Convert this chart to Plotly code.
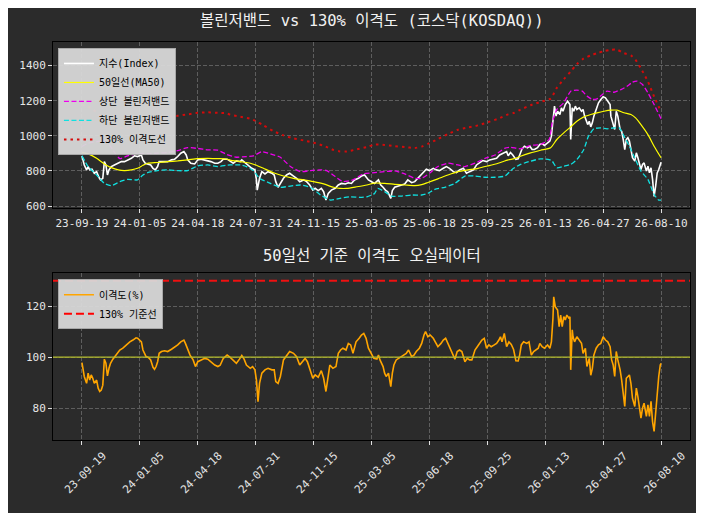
import plotly.graph_objects as go
import numpy as np

FONT = "DejaVu Sans Mono, Noto Sans CJK KR, monospace"

# ---- x axis: trading-day number and tick labels ----
TICK_POS = [0, 75, 150, 225, 300, 375, 450, 525, 600, 675, 750]
TICK_LABELS = ["23-09-19", "24-01-05", "24-04-18", "24-07-31", "24-11-15",
               "25-03-05", "25-06-18", "25-09-25", "26-01-13", "26-04-27", "26-08-10"]

# ---- KOSDAQ index (white) ----
idx_day = [0, 1, 3, 6, 8, 10, 13, 16, 19, 22, 24, 27, 29, 31, 33, 35, 38, 42, 47, 51, 55, 60, 64, 68, 72, 77,
           79, 82, 85, 89, 92, 95, 98, 100, 105, 111, 116, 120, 124, 128, 132, 135, 137, 141, 146, 150, 154,
           159, 163, 167, 172, 176, 180, 183, 188, 192, 196, 200, 205, 207, 211, 216, 220, 224, 226, 227, 230,
           233, 237, 241, 246, 249, 251, 254, 257, 261, 265, 269, 274, 278, 282, 287, 291, 295, 299, 302, 306,
           310, 313, 316, 319, 323, 328, 332, 336, 341, 345, 349, 353, 358, 362, 366, 371, 375, 379, 384, 387,
           390, 393, 396, 398, 400, 402, 405, 410, 414, 418, 422, 427, 431, 435, 440, 443, 446, 450, 455, 459,
           463, 468, 472, 476, 481, 485, 489, 494, 498, 502, 507, 511, 515, 519, 524, 528, 532, 537, 541, 545,
           550, 552, 555, 558, 562, 565, 567, 570, 573, 577, 580, 583, 586, 590, 593, 596, 599, 603, 606, 608,
           610, 612, 614, 616, 619, 621, 623, 626, 629, 632, 633, 635, 637, 639, 641, 644, 647, 649, 651, 653,
           655, 657, 659, 661, 663, 666, 669, 672, 675, 678, 681, 684, 685, 688, 690, 692, 694, 697, 699, 701,
           703, 705, 707, 709, 711, 713, 716, 718, 720, 722, 724, 726, 728, 731, 733, 735, 737, 739, 741, 743,
           745, 747, 750]
idx_val = [886, 863, 834, 806, 825, 806, 810, 787, 796, 764, 749, 758, 853, 834, 777, 806, 825, 834, 844, 853,
           853, 863, 872, 886, 882, 891, 863, 844, 840, 834, 815, 806, 825, 853, 853, 853, 863, 867, 882, 901,
           910, 891, 863, 844, 840, 863, 867, 863, 859, 853, 844, 844, 853, 867, 867, 853, 844, 857, 853, 863,
           848, 825, 815, 806, 749, 691, 758, 796, 783, 796, 787, 777, 739, 707, 729, 758, 777, 787, 771, 758,
           739, 749, 739, 720, 691, 701, 688, 701, 682, 634, 672, 691, 701, 720, 729, 726, 733, 729, 749, 758,
           771, 777, 749, 739, 729, 749, 720, 707, 691, 682, 663, 644, 688, 707, 714, 720, 726, 749, 733, 739,
           758, 777, 796, 810, 802, 815, 806, 802, 815, 825, 815, 796, 790, 806, 815, 787, 796, 806, 834, 848,
           859, 853, 863, 867, 872, 891, 901, 910, 886, 905, 891, 866, 869, 894, 926, 941, 932, 941, 922, 922,
           932, 951, 956, 945, 960, 970, 998, 1093, 1169, 1112, 1140, 1121, 1159, 1140, 1178, 1197, 1178, 979,
           1159, 1140, 1169, 1150, 1159, 1140, 1150, 1112, 1093, 1064, 1083, 1051, 1074, 1112, 1150, 1188, 1207,
           1222, 1216, 1197, 1178, 1112, 1064, 1036, 1140, 1112, 1036, 1026, 979, 922, 979, 989, 970, 922, 875,
           856, 903, 875, 846, 808, 837, 846, 799, 827, 789, 818, 752, 655, 714, 789, 808, 850]

# ---- 50-day moving average (yellow) ----
ma_day = [0, 8, 19, 29, 38, 47, 55, 64, 72, 79, 85, 98, 111, 124, 137, 150, 163, 176, 187, 192, 205, 218, 225,
          235, 248, 261, 274, 287, 300, 313, 326, 334, 343, 356, 369, 379, 392, 405, 418, 431, 440, 448, 461,
          474, 487, 500, 513, 526, 539, 552, 560, 568, 581, 594, 607, 615, 624, 633, 641, 650, 659, 667, 676,
          685, 693, 702, 711, 717, 724, 733, 741, 750]
ma_val = [906, 897, 872, 840, 819, 806, 802, 806, 815, 832, 844, 848, 853, 857, 863, 870, 872, 870, 868, 862,
          853, 844, 834, 815, 790, 771, 758, 749, 739, 726, 707, 701, 701, 710, 720, 731, 729, 724, 720, 716,
          722, 734, 755, 777, 796, 806, 815, 829, 844, 863, 870, 884, 903, 918, 932, 979, 1017, 1051, 1083,
          1108, 1121, 1131, 1140, 1146, 1146, 1131, 1121, 1102, 1064, 1007, 941, 875]

# ---- Bollinger bands ----
up_day = [0, 8, 19, 29, 34, 40, 49, 59, 72, 85, 98, 111, 124, 137, 150, 163, 176, 187, 200, 213, 222, 233, 244,
          257, 270, 283, 296, 309, 317, 328, 338, 351, 364, 379, 392, 405, 418, 431, 440, 451, 461, 474, 487,
          496, 509, 522, 535, 548, 555, 568, 581, 594, 605, 609, 615, 624, 633, 641, 648, 654, 661, 667, 674,
          680, 689, 698, 706, 713, 719, 726, 733, 741, 750]
up_val = [939, 958, 966, 973, 958, 920, 870, 886, 897, 897, 901, 905, 916, 933, 928, 920, 918, 895, 878, 882,
          886, 910, 897, 878, 825, 796, 802, 806, 802, 768, 739, 749, 783, 790, 796, 800, 783, 758, 758, 790,
          825, 844, 834, 825, 844, 872, 891, 930, 935, 926, 945, 951, 979, 1074, 1150, 1188, 1254, 1260, 1254,
          1226, 1207, 1210, 1235, 1254, 1248, 1263, 1282, 1305, 1311, 1292, 1245, 1178, 1097]
lo_day = [0, 8, 19, 29, 38, 49, 59, 72, 79, 85, 98, 111, 124, 137, 150, 163, 176, 187, 192, 205, 213, 222, 230,
          244, 257, 270, 283, 296, 309, 322, 334, 347, 360, 369, 379, 383, 392, 401, 414, 427, 440, 448, 457,
          470, 483, 496, 509, 522, 535, 548, 555, 559, 568, 581, 594, 605, 609, 615, 624, 633, 641, 650, 656,
          663, 672, 680, 689, 696, 702, 709, 715, 724, 733, 741, 747, 750]
lo_val = [886, 825, 777, 729, 716, 739, 752, 749, 777, 790, 802, 806, 802, 802, 829, 834, 825, 832, 834, 834,
          825, 802, 758, 729, 707, 714, 720, 707, 663, 634, 644, 653, 650, 653, 672, 701, 682, 657, 657, 663,
          663, 672, 695, 707, 729, 771, 771, 764, 764, 771, 800, 815, 837, 856, 869, 865, 856, 818, 827, 837,
          865, 922, 998, 1040, 1045, 1040, 1045, 1045, 998, 941, 884, 799, 752, 666, 634, 634]

RATIO_LINE = 1.30      # 130% disparity line multiplier
THRESH = 130           # oscillator threshold line
BASE = 100             # oscillator base line

# ---- disparity oscillator (%) ----
osc_day = [0, 1, 3, 6, 8, 10, 12, 14, 16, 19, 21, 23, 25, 27, 29, 31, 33, 35, 37, 40, 44, 49, 53, 57, 62, 66,
           70, 72, 75, 77, 79, 81, 83, 86, 89, 92, 94, 96, 98, 100, 103, 107, 111, 116, 120, 124, 128, 132, 134,
           137, 140, 144, 147, 150, 154, 159, 163, 167, 172, 176, 179, 183, 188, 192, 196, 200, 204, 207, 210,
           213, 218, 221, 224, 226, 228, 230, 233, 237, 241, 246, 249, 251, 254, 257, 261, 265, 269, 274, 278,
           282, 286, 289, 292, 295, 299, 302, 306, 310, 313, 316, 318, 321, 325, 329, 332, 335, 338, 342, 345,
           348, 351, 355, 359, 362, 365, 368, 371, 375, 378, 382, 384, 386, 388, 390, 392, 394, 397, 399, 400,
           402, 404, 407, 410, 414, 417, 420, 423, 427, 430, 433, 437, 440, 443, 445, 448, 451, 455, 458, 461,
           465, 468, 471, 473, 476, 479, 483, 486, 489, 492, 496, 499, 502, 505, 509, 512, 515, 518, 521, 524,
           527, 530, 534, 537, 540, 542, 544, 547, 550, 553, 556, 559, 562, 565, 567, 569, 572, 576, 579, 582,
           585, 588, 591, 593, 596, 599, 603, 606, 608, 610, 611, 613, 616, 618, 620, 622, 624, 626, 628, 631,
           632, 633, 635, 636, 638, 641, 644, 647, 649, 652, 654, 657, 659, 661, 663, 666, 669, 672, 675, 678,
           681, 684, 686, 688, 690, 692, 694, 697, 699, 701, 703, 705, 707, 709, 711, 713, 716, 718, 720, 722,
           724, 726, 728, 731, 733, 735, 737, 739, 741, 743, 745, 747, 749, 750]
osc_val = [97.8, 95.6, 92.4, 89.7, 93.7, 91.0, 93.0, 91.7, 89.7, 91.0, 87.8, 86.5, 87.1, 89.0, 99.2, 97.6, 92.6,
           95.6, 97.6, 99.2, 100.8, 102.8, 103.5, 104.8, 106.0, 106.7, 107.6, 107.4, 106.7, 106.0, 102.8, 101.5,
           100.2, 99.9, 98.9, 96.0, 95.2, 96.3, 98.2, 101.5, 102.2, 102.5, 102.2, 103.1, 103.9, 104.8, 106.0,
           106.7, 105.4, 102.8, 100.8, 98.9, 96.3, 98.2, 98.9, 99.5, 99.2, 98.2, 96.9, 96.3, 96.8, 99.5, 100.8,
           99.9, 98.9, 97.6, 99.2, 100.6, 99.2, 96.9, 95.6, 96.3, 95.0, 91.0, 82.5, 89.7, 93.7, 95.0, 95.6, 95.0,
           95.0, 90.4, 89.7, 92.4, 98.9, 100.8, 102.2, 101.5, 100.2, 96.9, 98.2, 99.5, 98.2, 95.6, 91.7, 93.0,
           92.1, 94.7, 91.7, 86.5, 91.0, 96.9, 95.6, 96.3, 101.5, 102.8, 103.5, 102.8, 105.4, 104.8, 101.5, 106.0,
           107.4, 108.7, 109.3, 107.4, 103.5, 101.5, 99.5, 99.2, 100.8, 98.9, 97.6, 96.3, 93.7, 92.4, 93.7, 89.0,
           88.4, 93.7, 96.9, 98.9, 99.5, 100.2, 100.8, 101.5, 102.8, 100.2, 100.8, 102.2, 103.5, 105.4, 108.7,
           110.0, 108.0, 108.7, 107.4, 106.0, 104.1, 105.4, 106.7, 107.4, 106.0, 104.1, 102.2, 99.2, 102.2, 102.8,
           102.2, 98.2, 99.5, 98.9, 98.9, 102.8, 104.1, 105.4, 106.7, 107.4, 103.5, 104.8, 104.1, 104.8, 105.4,
           106.7, 108.0, 106.0, 109.3, 104.1, 106.0, 105.0, 103.0, 98.6, 98.5, 101.0, 104.8, 106.0, 105.4, 106.0,
           100.8, 102.2, 102.8, 103.5, 105.4, 104.1, 103.5, 104.8, 103.5, 106.0, 115.2, 123.7, 119.8, 118.5,
           112.0, 116.5, 112.0, 115.9, 114.6, 116.5, 115.2, 115.9, 95.0, 110.7, 108.0, 106.0, 108.0, 106.7, 105.4,
           101.5, 103.5, 96.3, 99.5, 92.9, 95.6, 100.8, 103.5, 104.8, 105.4, 108.0, 106.7, 106.0, 104.1, 98.9,
           96.9, 92.4, 102.2, 98.9, 95.0, 91.0, 85.2, 80.6, 91.7, 92.4, 93.0, 89.7, 83.9, 80.6, 87.8, 84.5, 79.3,
           76.0, 79.9, 81.9, 76.7, 81.3, 76.7, 82.6, 74.7, 70.8, 78.0, 87.1, 92.4, 96.9, 97.5]

ratio_val = (np.array(ma_val) * RATIO_LINE).tolist()

fig = go.Figure()

# top panel
fig.add_trace(go.Scatter(x=idx_day, y=idx_val, mode="lines", name="지수(Index)",
                         line=dict(color="white", width=1.6), xaxis="x", yaxis="y"))
fig.add_trace(go.Scatter(x=ma_day, y=ma_val, mode="lines", name="50일선(MA50)",
                         line=dict(color="#ffff00", width=1.2, shape="spline", smoothing=0.6),
                         xaxis="x", yaxis="y"))
fig.add_trace(go.Scatter(x=up_day, y=up_val, mode="lines", name="상단 볼린저밴드",
                         line=dict(color="#ee00ee", width=1.3, dash="5px,2.5px", shape="spline", smoothing=0.5),
                         xaxis="x", yaxis="y"))
fig.add_trace(go.Scatter(x=lo_day, y=lo_val, mode="lines", name="하단 볼린저밴드",
                         line=dict(color="#10e0e0", width=1.3, dash="5px,2.5px", shape="spline", smoothing=0.5),
                         xaxis="x", yaxis="y"))
fig.add_trace(go.Scatter(x=ma_day, y=ratio_val, mode="lines", name="130% 이격도선",
                         line=dict(color="#d40a0a", width=2, dash="2.5px,4px", shape="spline", smoothing=0.6),
                         xaxis="x", yaxis="y"))

# bottom panel
fig.add_trace(go.Scatter(x=osc_day, y=osc_val, mode="lines", name="이격도(%)",
                         line=dict(color="#ffa500", width=1.6), xaxis="x2", yaxis="y2", legend="legend2"))
fig.add_trace(go.Scatter(x=[None], y=[None], mode="lines", name="130% 기준선",
                         line=dict(color="#ff0000", width=2, dash="8px,4px"),
                         xaxis="x2", yaxis="y2", legend="legend2"))

fig.add_shape(type="line", xref="x2 domain", yref="y2", x0=0, x1=1, y0=THRESH, y1=THRESH,
              line=dict(color="#ee1111", width=2, dash="8px,4px"))
fig.add_shape(type="line", xref="x2 domain", yref="y2", x0=0, x1=1, y0=BASE, y1=BASE,
              line=dict(color="#b4bc2c", width=1.2))

grid = dict(showgrid=True, gridcolor="#5e5e5e", griddash="4px,2px", gridwidth=0.8,
            showline=True, linecolor="black", linewidth=1, mirror=True,
            ticks="outside", ticklen=4, tickcolor="#e0e0e0", zeroline=False,
            tickfont=dict(size=11, color="#e6e6e6", family=FONT))

# the page body has an 8px margin, so the figure is 8px smaller and the margins shifted
fig.update_layout(
    width=696, height=505,
    margin=dict(l=45, r=14, t=34, b=73),
    paper_bgcolor="#2b2b2b", plot_bgcolor="#2b2b2b",
    font=dict(family=FONT, color="#e6e6e6", size=11),
    xaxis=dict(domain=[0, 1], anchor="y", range=[-37.5, 787.5], tickmode="array",
               tickvals=TICK_POS, ticktext=TICK_LABELS, tickangle=0, **grid),
    yaxis=dict(domain=[0.582, 1], anchor="x", range=[587, 1534], tickmode="array",
               tickvals=[600, 800, 1000, 1200, 1400], **grid),
    xaxis2=dict(domain=[0, 1], anchor="y2", range=[-37.5, 787.5], tickmode="array",
                tickvals=TICK_POS, ticktext=TICK_LABELS, tickangle=-45, ticklabelshift=21, **grid),
    yaxis2=dict(domain=[0, 0.42], anchor="x2", range=[67.45, 133.1], tickmode="array",
                tickvals=[80, 100, 120], **grid),
    legend=dict(x=0.0078, y=0.985, xanchor="left", yanchor="top",
                bgcolor="rgba(216,216,216,0.95)", bordercolor="#a8a8a8", borderwidth=1,
                font=dict(size=10, color="black", family=FONT), tracegroupgap=0),
    legend2=dict(x=0.0078, y=0.404, xanchor="left", yanchor="top",
                 bgcolor="rgba(216,216,216,0.95)", bordercolor="#a8a8a8", borderwidth=1,
                 font=dict(size=10, color="black", family=FONT), tracegroupgap=0),
    showlegend=True,
    annotations=[
        dict(text="볼린저밴드 vs 130% 이격도 (코스닥(KOSDAQ))", xref="paper", yref="paper",
             x=0.5, y=1.052, xanchor="center", yanchor="middle", showarrow=False,
             font=dict(size=15.5, color="#f2f2f2", family=FONT)),
        dict(text="50일선 기준 이격도 오실레이터", xref="paper", yref="paper",
             x=0.5, y=0.462, xanchor="center", yanchor="middle", showarrow=False,
             font=dict(size=15.5, color="#f2f2f2", family=FONT)),
    ],
)

fig.write_html("out.html")
